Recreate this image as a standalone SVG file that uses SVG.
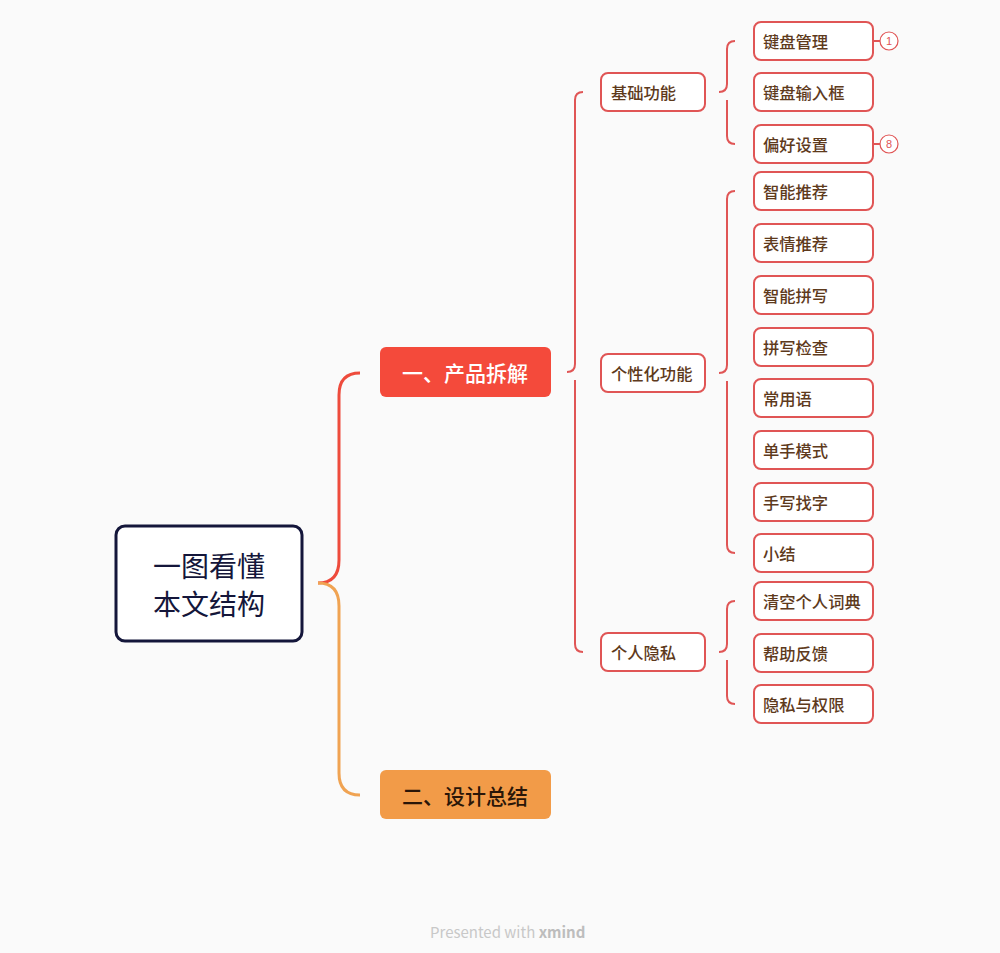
<svg xmlns="http://www.w3.org/2000/svg" width="1000" height="953" viewBox="0 0 1000 953">
<style>
text{font-family:"Noto Sans CJK SC","Noto Sans",sans-serif}
.l2 rect,.l3 rect{fill:#fff;stroke:#e05555;stroke-width:2}
.l2 text,.l3 text{font-size:16.3px;font-weight:500;fill:#5e3a1c;dominant-baseline:central}
.con{fill:none;stroke:#e05555;stroke-width:2}
.badge circle{fill:#fff;stroke:#e05555;stroke-width:1.2}
.badge text{font-size:11px;fill:#e05555;text-anchor:middle;dominant-baseline:central;font-family:"Liberation Sans",sans-serif}
</style>
<rect width="1000" height="953" fill="#fafafa"/>
<g id="connectors">
<path d="M318 583 Q339 583 339 560 L339 395 Q339 373 360 373" fill="none" stroke="#ee4b3c" stroke-width="3"/>
<path d="M318 583 Q339 583 339 606 L339 773 Q339 795 360 795" fill="none" stroke="#f0a352" stroke-width="3"/>
<path class="con" d="M567 372 Q575 372 575 364 L575 100 Q575 92 583 92 M575 380 L575 644 Q575 652 583 652"/>
<path class="con" d="M719 92 Q727 92 727 84 L727 49 Q727 41 735 41 M727 100 L727 136 Q727 144 735 144"/>
<path class="con" d="M719 373 Q727 373 727 365 L727 199 Q727 191 735 191 M727 381 L727 545 Q727 553 735 553"/>
<path class="con" d="M719 652 Q727 652 727 644 L727 609 Q727 601 735 601 M727 660 L727 696 Q727 704 735 704"/>
<path class="con" d="M873 41 L880 41 M873 144 L880 144"/>
</g>
<g id="root">
<rect x="116" y="526" width="186" height="115" rx="9" fill="#fff" stroke="#14163a" stroke-width="3"/>
<text x="209" y="565" font-size="28" fill="#14163a" text-anchor="middle" dominant-baseline="central">一图看懂</text>
<text x="209" y="603" font-size="28" fill="#14163a" text-anchor="middle" dominant-baseline="central">本文结构</text>
</g>
<g id="n1">
<rect x="380" y="347" width="171" height="50" rx="6" fill="#f44a3b"/>
<text x="465" y="372" font-size="21" font-weight="500" fill="#fff" text-anchor="middle" dominant-baseline="central">一、产品拆解</text>
</g>
<g id="n2">
<rect x="380" y="770" width="171" height="49" rx="6" fill="#f29b48"/>
<text x="465" y="795" font-size="21" font-weight="500" fill="#2a1608" text-anchor="middle" dominant-baseline="central">二、设计总结</text>
</g>
<g id="a1" class="l2"><rect x="601" y="73" width="104" height="38" rx="7"/><text x="611" y="92">基础功能</text></g>
<g id="a2" class="l2"><rect x="601" y="354" width="104" height="38" rx="7"/><text x="611" y="373">个性化功能</text></g>
<g id="a3" class="l2"><rect x="601" y="633" width="104" height="38" rx="7"/><text x="611" y="652">个人隐私</text></g>
<g id="b1" class="l3"><rect x="754" y="22" width="119" height="38" rx="7"/><text x="763" y="41">键盘管理</text></g>
<g id="b2" class="l3"><rect x="754" y="73" width="119" height="38" rx="7"/><text x="763" y="92">键盘输入框</text></g>
<g id="b3" class="l3"><rect x="754" y="125" width="119" height="38" rx="7"/><text x="763" y="144">偏好设置</text></g>
<g id="c1" class="l3"><rect x="754" y="172" width="119" height="38" rx="7"/><text x="763" y="191">智能推荐</text></g>
<g id="c2" class="l3"><rect x="754" y="224" width="119" height="38" rx="7"/><text x="763" y="243">表情推荐</text></g>
<g id="c3" class="l3"><rect x="754" y="276" width="119" height="38" rx="7"/><text x="763" y="295">智能拼写</text></g>
<g id="c4" class="l3"><rect x="754" y="328" width="119" height="38" rx="7"/><text x="763" y="347">拼写检查</text></g>
<g id="c5" class="l3"><rect x="754" y="379" width="119" height="38" rx="7"/><text x="763" y="398">常用语</text></g>
<g id="c6" class="l3"><rect x="754" y="431" width="119" height="38" rx="7"/><text x="763" y="450">单手模式</text></g>
<g id="c7" class="l3"><rect x="754" y="483" width="119" height="38" rx="7"/><text x="763" y="502">手写找字</text></g>
<g id="c8" class="l3"><rect x="754" y="534" width="119" height="38" rx="7"/><text x="763" y="553">小结</text></g>
<g id="d1" class="l3"><rect x="754" y="582" width="119" height="38" rx="7"/><text x="763" y="601">清空个人词典</text></g>
<g id="d2" class="l3"><rect x="754" y="634" width="119" height="38" rx="7"/><text x="763" y="653">帮助反馈</text></g>
<g id="d3" class="l3"><rect x="754" y="685" width="119" height="38" rx="7"/><text x="763" y="704">隐私与权限</text></g>
<g id="badge1" class="badge"><circle cx="889" cy="41" r="9"/><text x="889" y="41">1</text></g>
<g id="badge8" class="badge"><circle cx="889" cy="144" r="9"/><text x="889" y="144">8</text></g>
<text x="430" y="938" font-size="15" fill="#c8c8c8" font-family="Inter,'Liberation Sans',sans-serif">Presented with <tspan font-weight="bold" fill="#bdbdbd">xmind</tspan></text>
</svg>
